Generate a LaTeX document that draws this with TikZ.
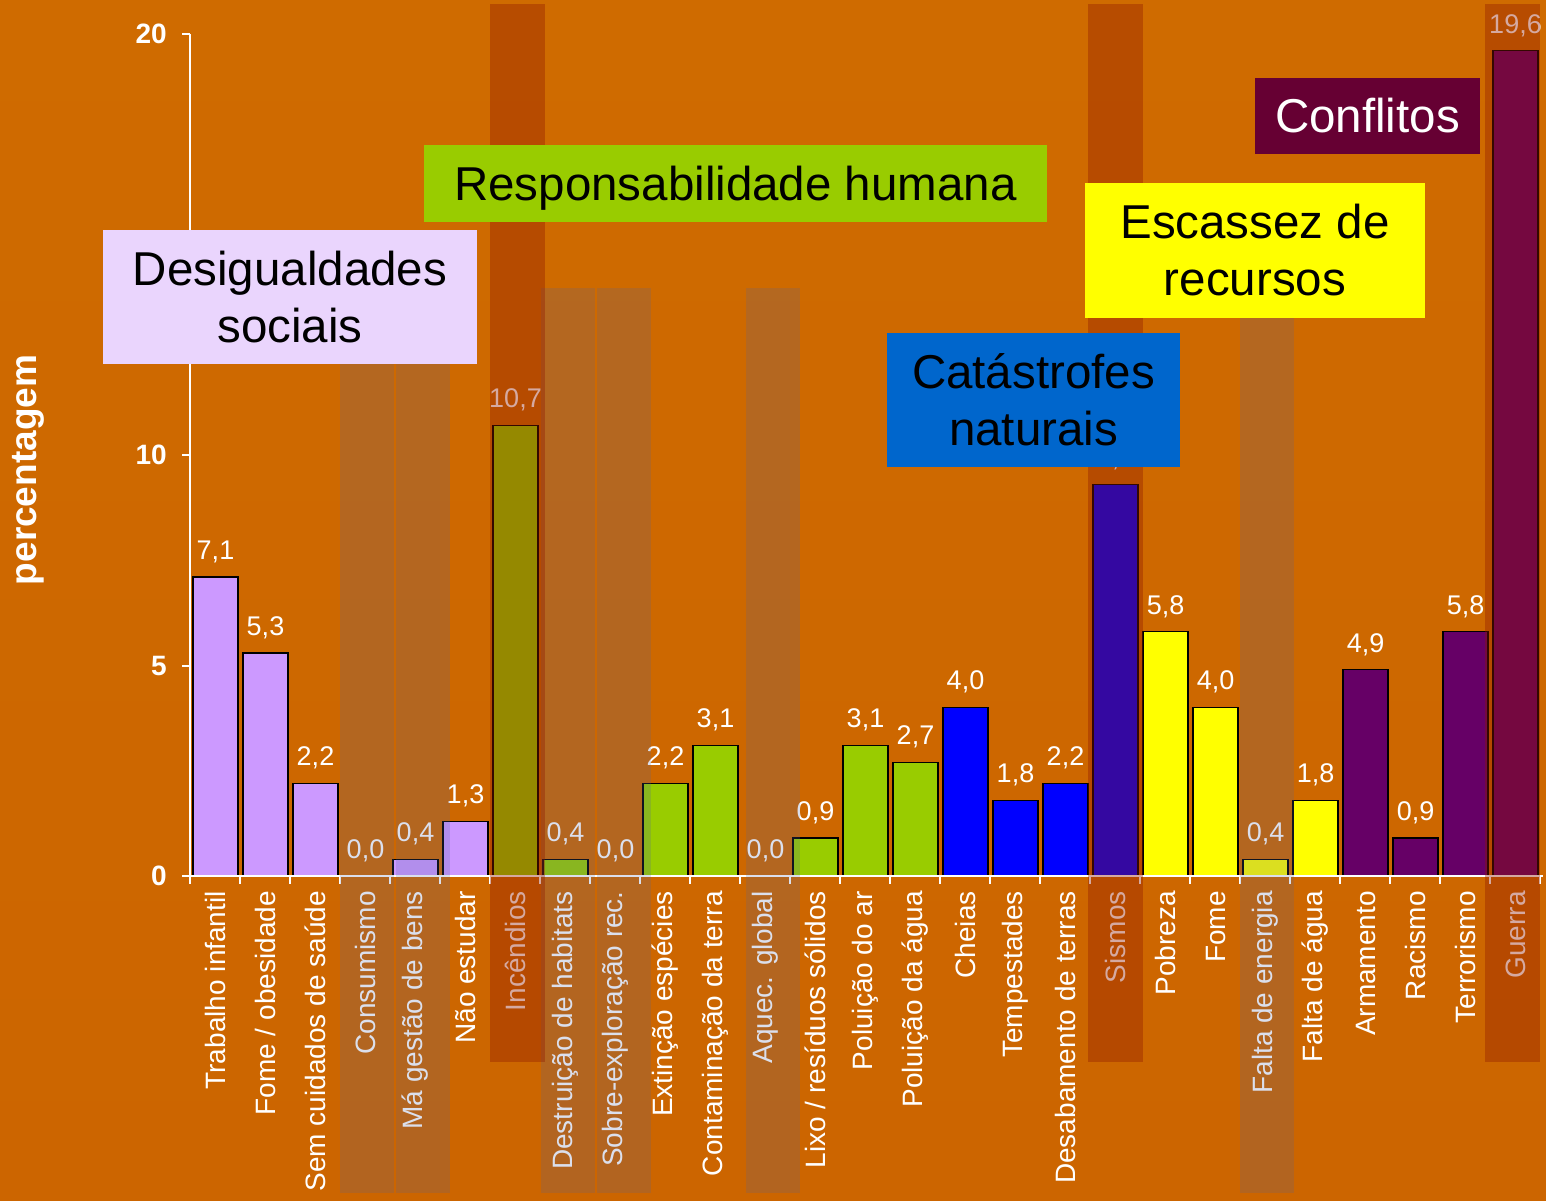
\documentclass[tikz,border=0pt]{standalone}
\usepackage{fontspec}
\setmainfont{Liberation Sans}
\definecolor{bgtop}{HTML}{CF6B00}
\definecolor{bgmid}{HTML}{DE8200}
\definecolor{bgbot}{HTML}{CC6500}
\definecolor{lilac}{HTML}{CC99FF}
\definecolor{grass}{HTML}{99CC00}
\definecolor{sea}{HTML}{0000FF}
\definecolor{sun}{HTML}{FFFF00}
\definecolor{wine}{HTML}{660066}
\definecolor{lilacbox}{HTML}{EAD5FD}
\definecolor{seabox}{HTML}{0066CC}
\definecolor{winebox}{HTML}{660033}
\definecolor{bandgrey}{RGB}{76,98,160}
\definecolor{bandred}{RGB}{143,24,0}

\begin{document}
\begin{tikzpicture}[x=1pt,y=-1pt,
    bar/.style={draw=black,line width=1.3pt},
    val/.style={text=white,font=\fontsize{27}{30}\selectfont,anchor=south,inner sep=0pt},
    cat/.style={text=white,font=\fontsize{28}{30}\selectfont,rotate=90,anchor=east,inner sep=0pt},
    axis/.style={white,line width=2pt},
    tick label/.style={text=white,font=\bfseries\fontsize{28}{30}\selectfont,anchor=east,inner sep=0pt},
    light band/.style={fill=bandgrey,fill opacity=0.2},
    dark band/.style={fill=bandred,fill opacity=0.37},
    group/.style={font=\fontsize{47.5}{57}\selectfont,align=center,inner sep=0pt}]
        \useasboundingbox (0,0) rectangle (1546,1200);
        \clip (0,0) rectangle (1546,1200);
        \shade[top color=bgtop,middle color=bgmid,bottom color=bgbot] (0,0) rectangle (1546,1200);

        \foreach \i/\v/\l/\c/\t in {1/7.1/{7,1}/lilac/Trabalho infantil,
            2/5.3/{5,3}/lilac/{Fome / obesidade}, 3/2.2/{2,2}/lilac/Sem cuidados de saúde,
            4/0/{0,0}/lilac/Consumismo, 5/0.4/{0,4}/lilac/Má gestão de bens,
            6/1.3/{1,3}/lilac/Não estudar, 7/10.7/{10,7}/grass/Incêndios,
            8/0.4/{0,4}/grass/Destruição de habitats, 9/0/{0,0}/grass/Sobre-exploração rec.,
            10/2.2/{2,2}/grass/Extinção espécies, 11/3.1/{3,1}/grass/Contaminação da terra,
            12/0/{0,0}/grass/Aquec. global, 13/0.9/{0,9}/grass/{Lixo / resíduos sólidos},
            14/3.1/{3,1}/grass/Poluição do ar, 15/2.7/{2,7}/grass/Poluição da água,
            16/4.0/{4,0}/sea/Cheias, 17/1.8/{1,8}/sea/Tempestades,
            18/2.2/{2,2}/sea/Desabamento de terras, 19/9.3/{9,3}/sea/Sismos,
            20/5.8/{5,8}/sun/Pobreza, 21/4.0/{4,0}/sun/Fome,
            22/0.4/{0,4}/sun/Falta de energia, 23/1.8/{1,8}/sun/Falta de água,
            24/4.9/{4,9}/wine/Armamento, 25/0.9/{0,9}/wine/Racismo,
            26/5.8/{5,8}/wine/Terrorismo, 27/19.6/{19,6}/wine/Guerra}{
            \pgfmathsetmacro\xl{190+50*(\i-1)}
            \ifdim\v pt>0pt \draw[bar,fill=\c] (\xl+3,876) rectangle (\xl+48,876-42.1*\v); \fi
            \node[val] (v\i) at (\xl+25.5,862-42.1*\v) {\l};
            \node[cat] (c\i) at (\xl+25.5,891) {\t};
        }

        \draw[axis] (190,34) -- (190,876);
        \draw[axis] (183,876) -- (1543,876);
        \foreach \y in {0,5,10,15,20} {
            \draw[axis] (182,876-42.1*\y) -- (190,876-42.1*\y);
            \node[tick label] (y\y) at (167,876-42.1*\y) {\y};
        }
        \foreach \k in {0,...,27} \draw[axis] (190+50*\k,876) -- (190+50*\k,884);
        \node[rotate=90,text=white,font=\bfseries\fontsize{37}{40}\selectfont] (ylab) at (28,470) {percentagem};

        \foreach \x in {340,396,541,597,746,1240} \fill[light band] (\x,288) rectangle (\x+53.5,1193);
        \foreach \x in {490,1088,1485} \fill[dark band] (\x,4) rectangle (\x+55,1062);

        \node[group,fill=lilacbox,minimum width=374,minimum height=134] (desig) at (290,297) {Desigualdades\\sociais};
        \node[group,fill=grass,minimum width=623,minimum height=77,text depth=0pt] (resp) at (735.5,183.5) {Responsabilidade humana};
        \node[group,fill=sun,minimum width=340,minimum height=135] (escas) at (1255,250.5) {Escassez de\\recursos};
        \node[group,fill=seabox,minimum width=293,minimum height=134] (catas) at (1033.5,400) {Catástrofes\\naturais};
        \node[group,fill=winebox,text=white,minimum width=225,minimum height=76] (confl) at (1367.5,116) {Conflitos};
\end{tikzpicture}
\end{document}
